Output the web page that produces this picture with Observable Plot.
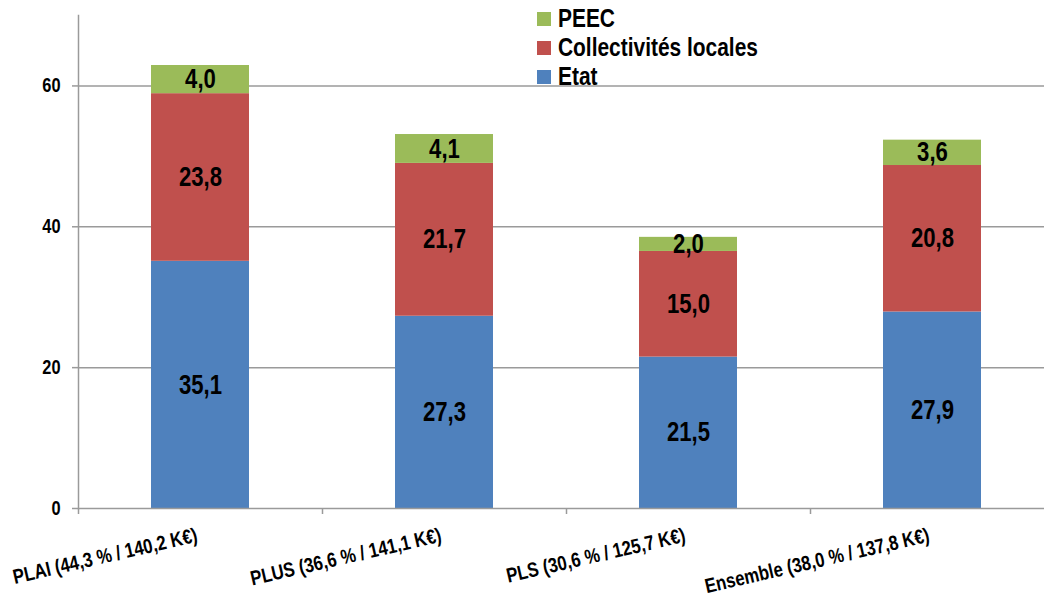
<!DOCTYPE html>
<html lang="fr">
<head>
<meta charset="utf-8">
<script src="https://cdn.jsdelivr.net/npm/d3@7"></script>
<script src="https://cdn.jsdelivr.net/npm/@observablehq/plot@0.6"></script>
<style>
  body { margin: 0; background: #fff; }
  #wrap { position: relative; width: 1044px; height: 597px; overflow: hidden; }
  #wrap, #legend { font-family: "Liberation Sans", Arial, sans-serif; font-weight: bold; }
  #legend { position: absolute; left: 537px; top: 4px; }
  #legend .row { display: flex; align-items: center; height: 29px; color: #000; }
  #legend .sw { width: 14px; height: 14px; margin-right: 7px; flex: none; }
  /* police étroite : Liberation Sans Bold compressée horizontalement */
  #legend .lbl { font-size: 25.5px; display: inline-block; transform: scaleX(0.82); transform-origin: left center; white-space: nowrap; }
</style>
</head>
<body>
<div id="wrap">
  <div id="chart"></div>
  <div id="legend"></div>
</div>
<script>
// Programmes de financement (part de subvention / coût moyen)
const categories = [
  "PLAI (44,3 % / 140,2 K€)",
  "PLUS (36,6 % / 141,1 K€)",
  "PLS (30,6 % / 125,7 K€)",
  "Ensemble (38,0 % / 137,8 K€)"
];
// Financeurs, empilés de bas en haut
const series = ["Etat", "Collectivités locales", "PEEC"];
const colors = ["#4f81bd", "#c0504d", "#9bbb59"];

const etat = [35.1, 27.3, 21.5, 27.9];
const collectivites = [23.8, 21.7, 15.0, 20.8];
const peec = [4.0, 4.1, 2.0, 3.6];

const yTicks = [0, 20, 40, 60];

const values = [etat, collectivites, peec];
const data = [];
categories.forEach((cat, i) => {
  series.forEach((s, j) => data.push({ cat, series: s, value: values[j][i] }));
});

const fmt = v => v.toFixed(1).replace(".", ",");
const fontFamily = '"Liberation Sans", Arial, sans-serif';
const narrow = 0.82;

const width = 1044, height = 597;
const marginLeft = 78, marginTop = 15, marginBottom = 89;
const xRange = [marginLeft, 1054];
const step = (xRange[1] - xRange[0]) / categories.length;
const gray = "#9a9a9a";

const chart = Plot.plot({
  width, height,
  marginLeft, marginTop, marginBottom, marginRight: 0,
  style: { fontFamily, fontWeight: "bold", overflow: "visible" },
  x: { domain: categories, range: xRange, paddingInner: 0.6, paddingOuter: 0.3, label: null },
  y: { domain: [0, 70], label: null },
  color: { domain: series, range: colors },
  marks: [
    Plot.ruleY(yTicks.filter(d => d > 0), { stroke: gray, strokeWidth: 1.5 }),
    Plot.barY(data, { x: "cat", y: "value", fill: "series" }),
    Plot.text(data, Plot.stackY({
      x: "cat", y: "value", z: "series",
      text: d => fmt(d.value),
      fontSize: 27, fontWeight: "bold", fill: "#000"
    })),
    Plot.ruleY([0], { stroke: gray, strokeWidth: 1.5 }),
    Plot.frame({ anchor: "left", stroke: gray, strokeWidth: 1.5 }),
    Plot.axisY({
      ticks: yTicks, tickSize: 6, tickPadding: 12, stroke: gray, strokeWidth: 1.5,
      fontSize: 20, fill: "#000", tickFormat: d => d
    }),
    // graduations entre les catégories
    Plot.axisX({
      tickSize: 6, dx: -step / 2, stroke: gray, strokeWidth: 1.5, tickFormat: () => ""
    }),
    Plot.axisX({
      tickSize: 0, tickPadding: 33, dx: -2, tickRotate: -13, textAnchor: "end", lineAnchor: "bottom",
      fontSize: 20.5, fill: "#000"
    })
  ]
});

// Compression horizontale de chaque texte autour de son point d'ancrage
d3.select(chart).selectAll("text").each(function () {
  const t = this.getAttribute("transform");
  if (t) {
    this.setAttribute("transform", `${t} scale(${narrow},1)`);
  } else {
    const x = +this.getAttribute("x") || 0, y = +this.getAttribute("y") || 0;
    this.removeAttribute("x");
    this.removeAttribute("y");
    this.setAttribute("transform", `translate(${x},${y}) scale(${narrow},1)`);
  }
});
document.getElementById("chart").appendChild(chart);

// Légende (ordre inverse de l'empilement)
const legend = document.getElementById("legend");
series.slice().reverse().forEach(s => {
  const row = document.createElement("div");
  row.className = "row";
  const sw = document.createElement("span");
  sw.className = "sw";
  sw.style.background = colors[series.indexOf(s)];
  const label = document.createElement("span");
  label.className = "lbl";
  label.textContent = s;
  row.appendChild(sw);
  row.appendChild(label);
  legend.appendChild(row);
});
</script>
</body>
</html>
